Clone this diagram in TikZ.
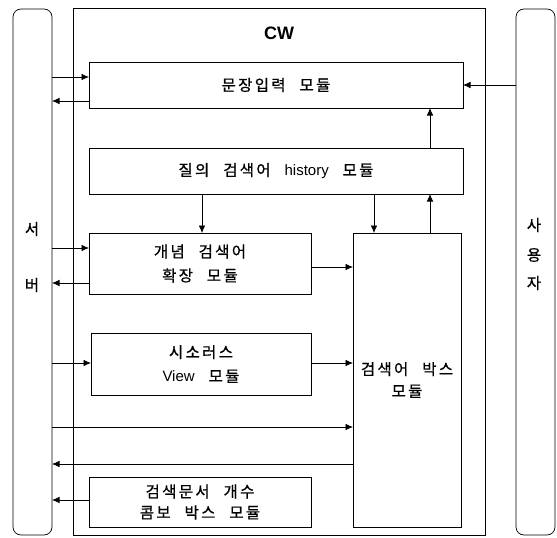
\documentclass[tikz,border=0pt]{standalone}
\usepackage{fontspec}
\setmainfont[LetterSpace=15,WordSpace=2.4,FakeBold=0.8]{Noto Sans CJK KR}
\newfontfamily\latf{Liberation Sans}
\usetikzlibrary{arrows.meta}
\begin{document}
\begin{tikzpicture}[x=1pt,y=-1pt,
  box/.style={draw, line width=0.7pt, inner sep=0pt, outer sep=0pt, align=center,
    font=\fontsize{15.5}{24}\selectfont},
  side/.style={box, rounded corners=8pt},
  lbl/.style={inner sep=0pt, font=\fontsize{15.5}{24}\selectfont},
  arr/.style={-{Latex[length=7.5pt,width=6.5pt]}, line width=0.7pt}]
\useasboundingbox (0,0) rectangle (557,538);
% outer frames
\node[side, minimum width=39pt, minimum height=526pt] (srv) at (32.5,272) {};
\node[side, minimum width=39pt, minimum height=526pt] (usr) at (535.5,272) {};
\node[box, line width=0.6pt, minimum width=412pt, minimum height=527pt] (cw) at (279,271.5) {};
\node[inner sep=0pt, font=\latf\bfseries\fontsize{18}{20}\selectfont] (cwl) at (279,33) {CW};
% side labels
\node[lbl] (s1) at (32,229) {서};
\node[lbl] (s2) at (32,285) {버};
\node[lbl] (u1) at (534,225) {사};
\node[lbl] (u2) at (534,255) {용};
\node[lbl] (u3) at (534,283) {자};
% modules
\node[box, minimum width=374pt, minimum height=46pt] (m1) at (276,85) {문장입력 모듈};
\node[box, minimum width=374pt, minimum height=46pt] (m2) at (276,171) {질의 검색어 {\latf\fontsize{15}{24}\selectfont history} 모듈};
\node[box, minimum width=222pt, minimum height=61pt] (m3) at (200,263.5) {개념 검색어\\확장 모듈};
\node[box, minimum width=220pt, minimum height=62pt] (m4) at (201,364) {시소러스\\{\latf\fontsize{15}{24}\selectfont View} 모듈};
\node[box, minimum width=108pt, minimum height=294pt] (m5) at (407,380) {검색어 박스\\[-2pt]모듈};
\node[box, minimum width=222pt, minimum height=50pt] (m6) at (200,502) {검색문서 개수\\[-3pt]콤보 박스 모듈};
% connectors
\draw[arr] (srv.east |- 0,77) -- (m1.west |- 0,77);
\draw[arr] (m1.west |- 0,101) -- (srv.east |- 0,101);
\draw[arr] (usr.west |- 0,85) -- (m1.east |- 0,85);
\draw[arr] (m2.north -| 430,0) -- (m1.south -| 430,0);
\draw[arr] (m2.south -| 202,0) -- (m3.north -| 202,0);
\draw[arr] (m2.south -| 374,0) -- (m5.north -| 374,0);
\draw[arr] (m5.north -| 430,0) -- (m2.south -| 430,0);
\draw[arr] (srv.east |- 0,248) -- (m3.west |- 0,248);
\draw[arr] (m3.west |- 0,283) -- (srv.east |- 0,283);
\draw[arr] (m3.east |- 0,267) -- (m5.west |- 0,267);
\draw[arr] (srv.east |- 0,363) -- (m4.west |- 0,363);
\draw[arr] (m4.east |- 0,363) -- (m5.west |- 0,363);
\draw[arr] (srv.east |- 0,427) -- (m5.west |- 0,427);
\draw[arr] (m5.west |- 0,464) -- (srv.east |- 0,464);
\draw[arr] (m6.west |- 0,500) -- (srv.east |- 0,500);
\end{tikzpicture}
\end{document}
